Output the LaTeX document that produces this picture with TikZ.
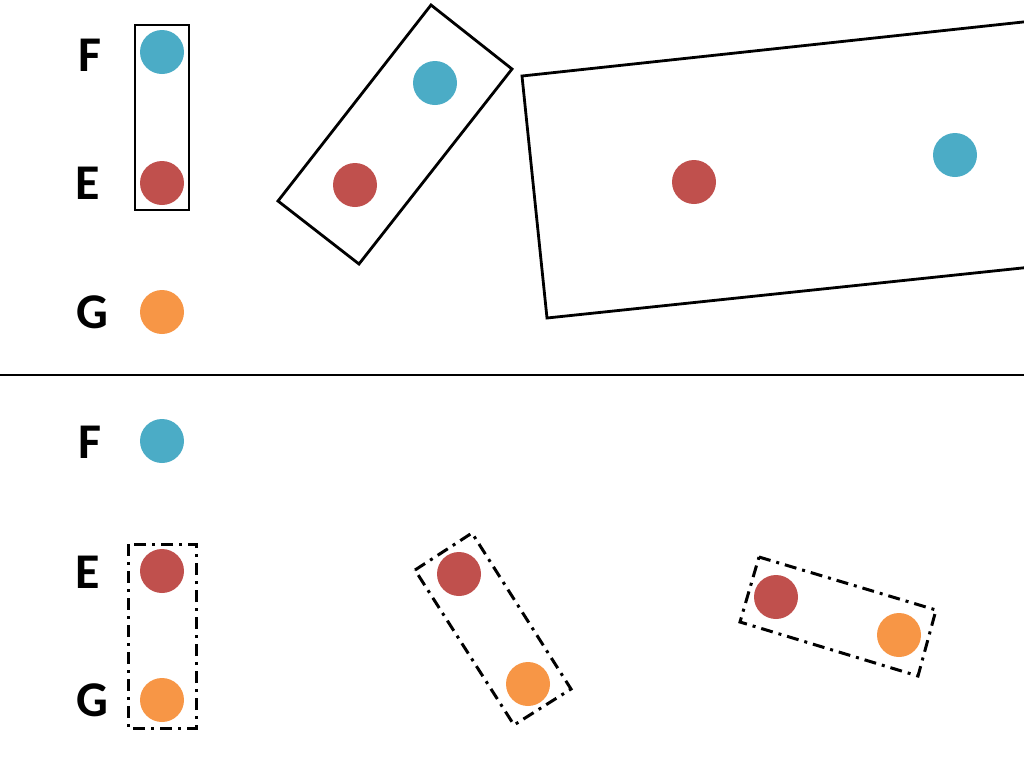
\documentclass[tikz,border=0pt]{standalone}
\usepackage{fontspec}
\setmainfont{Carlito}
\definecolor{colF}{HTML}{4BACC6}
\definecolor{colE}{HTML}{C0504D}
\definecolor{colG}{HTML}{F79646}
\tikzset{
  ball/.style = {circle, minimum size=22pt, inner sep=0pt},
  ballF/.style = {ball, fill=colF},
  ballE/.style = {ball, fill=colE},
  ballG/.style = {ball, fill=colG},
  lbl/.style = {font=\bfseries\fontsize{25}{25}\selectfont},
  solidbox/.style = {line width=1.4pt, line join=miter},
  dotbox/.style = {line width=1.5pt, dash pattern=on 6pt off 3pt on 1.5pt off 3pt},
}
\begin{document}
\begin{tikzpicture}[x=0.5pt,y=-0.5pt]
\useasboundingbox (0,0) rectangle (1024,768);
\clip (0,0) rectangle (1024,768);
% upper half
\node[lbl] (lF1) at (90,55) {F};
\node[lbl] (lE1) at (88,183) {E};
\node[lbl] (lG1) at (92,312) {G};
\node[ballF] (F1) at (162,52) {};
\node[ballE] (E1) at (162,183) {};
\node[ballG] (G1) at (162,312) {};
\draw[solidbox] (135,25) rectangle (189,210);
\node[ballF] (F2) at (435,83) {};
\node[ballE] (E2) at (355,185) {};
\draw[solidbox] (431,5) -- (512,69) -- (359,264) -- (278,201) -- cycle;
\node[ballE] (E3) at (694,182) {};
\node[ballF] (F3) at (955,155) {};
\draw[solidbox] (1060,18) -- (522,76) -- (547,318) -- (1060,264);
% separator
\draw[line width=1.2pt] (0,375) -- (1024,375);
% lower half
\node[lbl] (lF2) at (90,442) {F};
\node[lbl] (lE2) at (88,572) {E};
\node[lbl] (lG2) at (92,700) {G};
\node[ballF] (F4) at (162,441) {};
\node[ballE] (E4) at (162,571) {};
\node[ballG] (G4) at (162,700) {};
\draw[dotbox] (128,544) rectangle (196,728);
\node[ballE] (E5) at (459,574) {};
\node[ballG] (G5) at (528,684) {};
\draw[dotbox] (415,570) -- (472,533) -- (571,689) -- (514,725) -- cycle;
\node[ballE] (E6) at (776,597) {};
\node[ballG] (G6) at (899,635) {};
\draw[dotbox] (759,557) -- (936,610) -- (918,676) -- (740,622) -- cycle;
\end{tikzpicture}
\end{document}
